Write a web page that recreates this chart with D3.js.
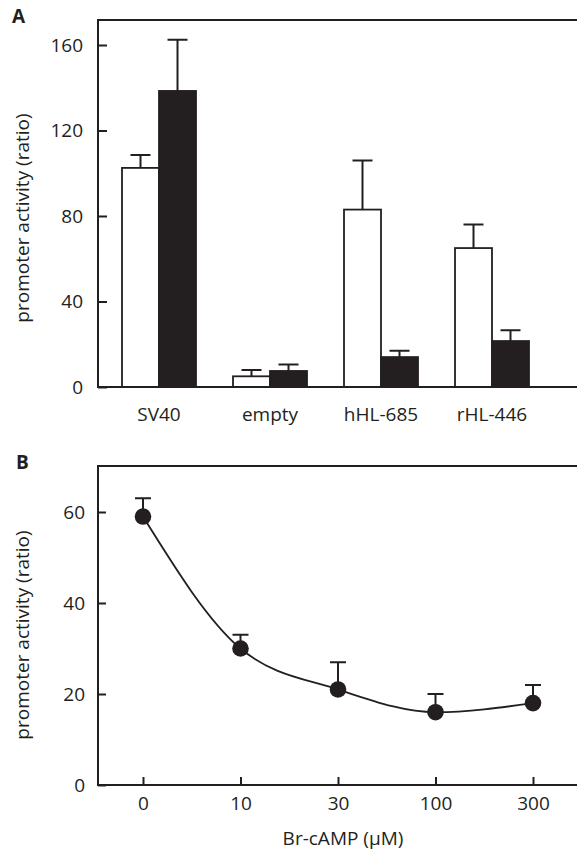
<!DOCTYPE html>
<html lang="en">
<head>
<meta charset="utf-8">
<script src="https://d3js.org/d3.v7.min.js"></script>
<style>
  body { margin: 0; background: #fff; }
  svg { display: block; }
  text { font-family: "Open Sans", sans-serif; fill: #231f20; }
  .tick { font-size: 19px; }
  .panel { font-size: 19px; font-weight: bold; }
</style>
</head>
<body>
<svg width="577" height="851"></svg>
<script>
// panel A data
const constructs = ["SV40", "empty", "hHL-685", "rHL-446"];
const seriesA = ["control", "Br-cAMP"];
const controlVals = [102.5, 5, 83, 65];
const controlErr = [6, 3, 23, 11];
const camVals = [138.5, 7.5, 14, 21.5];
const camErr = [24, 3, 3, 5];
const ticksA = [0, 40, 80, 120, 160];

// panel B data
const doses = ["0", "10", "30", "100", "300"];
const doseVals = [59, 30, 21, 16, 18];
const doseErr = [4, 3, 6, 4, 4];
const ticksB = [0, 20, 40, 60];

const ink = "#231f20";
const svg = d3.select("svg");

// ---------- panel A ----------
const a = {left: 98, right: 577, top: 20, bottom: 387};
// step 111, bars 37 wide, first group starts at x=122
const xA = d3.scaleBand().domain(constructs).range([103.5, 547.5]).paddingInner(1/3).paddingOuter(1/6);
const xSub = d3.scaleBand().domain(seriesA).range([0, xA.bandwidth()]);
const yA = d3.scaleLinear().domain([0, 160]).range([a.bottom, 45]);

const rowsA = [];
constructs.forEach((c, i) => {
  rowsA.push({c: c, s: "control", v: controlVals[i], e: controlErr[i]});
  rowsA.push({c: c, s: "Br-cAMP", v: camVals[i], e: camErr[i]});
});

const gA = svg.append("g");

// error bars (drawn behind bars)
gA.selectAll(".errA").data(rowsA).enter().append("path")
  .attr("d", d => {
    const cx = xA(d.c) + xSub(d.s) + xSub.bandwidth() / 2;
    return "M" + cx + "," + yA(d.v) + "V" + yA(d.v + d.e) + "M" + (cx - 10) + "," + yA(d.v + d.e) + "H" + (cx + 10);
  })
  .attr("stroke", ink).attr("stroke-width", 2).attr("fill", "none");

gA.selectAll(".barA").data(rowsA).enter().append("rect")
  .attr("x", d => xA(d.c) + xSub(d.s))
  .attr("y", d => yA(d.v))
  .attr("width", xSub.bandwidth())
  .attr("height", d => yA(0) - yA(d.v))
  .attr("fill", d => d.s === "control" ? "#fff" : ink)
  .attr("stroke", ink).attr("stroke-width", 1.8);

// frame: left, top, bottom (open on the right)
gA.append("path")
  .attr("d", "M577," + a.top + "H" + a.left + "V" + a.bottom + "H577")
  .attr("stroke", ink).attr("stroke-width", 2).attr("fill", "none");

const axA = gA.append("g").attr("transform", "translate(" + a.left + ",0)")
  .call(d3.axisLeft(yA).tickValues(ticksA).tickSize(-9).tickPadding(15));
axA.select(".domain").remove();
axA.selectAll("line").attr("stroke", ink).attr("stroke-width", 2);
axA.selectAll("text").attr("class", "tick").attr("font-family", null).attr("font-size", null);

gA.selectAll(".labA").data(constructs).enter().append("text")
  .attr("class", "tick")
  .attr("x", d => xA(d) + xA.bandwidth() / 2)
  .attr("y", 421)
  .attr("text-anchor", "middle")
  .text(d => d);

gA.append("text").attr("class", "tick")
  .attr("transform", "translate(29,218) rotate(-90)")
  .attr("text-anchor", "middle")
  .text("promoter activity (ratio)");

svg.append("text").attr("class", "panel").attr("x", 12).attr("y", 23).text("A");

// ---------- panel B ----------
const b = {left: 98, right: 577, top: 466, bottom: 785};
const xB = d3.scalePoint().domain(doses).range([143, 533]);
const yB = d3.scaleLinear().domain([0, 60]).range([b.bottom, 512]);

const rowsB = doses.map((d, i) => ({d: d, v: doseVals[i], e: doseErr[i]}));
const gB = svg.append("g");

gB.selectAll(".errB").data(rowsB).enter().append("path")
  .attr("d", d => {
    const cx = xB(d.d);
    return "M" + cx + "," + yB(d.v) + "V" + yB(d.v + d.e) + "M" + (cx - 8) + "," + yB(d.v + d.e) + "H" + (cx + 8);
  })
  .attr("stroke", ink).attr("stroke-width", 2).attr("fill", "none");

gB.append("path").datum(rowsB)
  .attr("d", d3.line().x(d => xB(d.d)).y(d => yB(d.v)).curve(d3.curveMonotoneX))
  .attr("stroke", ink).attr("stroke-width", 1.8).attr("fill", "none");

gB.selectAll(".ptB").data(rowsB).enter().append("circle")
  .attr("cx", d => xB(d.d)).attr("cy", d => yB(d.v)).attr("r", 8.3)
  .attr("fill", ink);

gB.append("path")
  .attr("d", "M577," + b.top + "H" + b.left + "V" + b.bottom + "H577")
  .attr("stroke", ink).attr("stroke-width", 2).attr("fill", "none");

const ayB = gB.append("g").attr("transform", "translate(" + b.left + ",0)")
  .call(d3.axisLeft(yB).tickValues(ticksB).tickSize(-8).tickPadding(13));
ayB.select(".domain").remove();
ayB.selectAll("line").attr("stroke", ink).attr("stroke-width", 2);
ayB.selectAll("text").attr("class", "tick").attr("font-family", null).attr("font-size", null);

const axB = gB.append("g").attr("transform", "translate(0," + b.bottom + ")")
  .call(d3.axisBottom(xB).tickSize(-8).tickPadding(12));
axB.select(".domain").remove();
axB.selectAll("line").attr("stroke", ink).attr("stroke-width", 2);
axB.selectAll("text").attr("class", "tick").attr("font-family", null).attr("font-size", null);

gB.append("text").attr("class", "tick")
  .attr("x", 343).attr("y", 845).attr("text-anchor", "middle")
  .text("Br-cAMP (\u00b5M)");

gB.append("text").attr("class", "tick")
  .attr("transform", "translate(29,635) rotate(-90)")
  .attr("text-anchor", "middle")
  .text("promoter activity (ratio)");

svg.append("text").attr("class", "panel").attr("x", 16).attr("y", 469).text("B");
</script>
</body>
</html>
